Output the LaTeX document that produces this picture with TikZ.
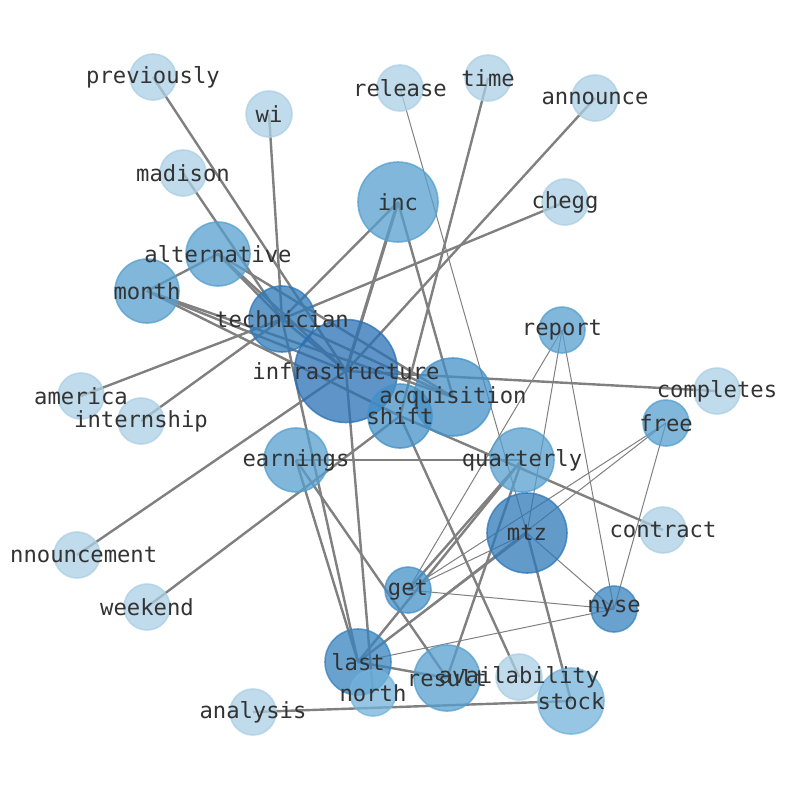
\documentclass[tikz,border=0pt]{standalone}
\usepackage{fontspec}
\newfontfamily\labfont{DejaVu Sans Mono}
\definecolor{cL}{RGB}{171,207,228}
\definecolor{cS}{RGB}{115,179,219}
\definecolor{cM}{RGB}{86,159,206}
\definecolor{cA}{RGB}{68,144,198}
\definecolor{cN}{RGB}{55,131,190}
\definecolor{cT}{RGB}{46,120,184}
\definecolor{cD}{RGB}{40,112,180}
\definecolor{labc}{RGB}{51,51,51}
\definecolor{edgec}{RGB}{128,128,128}
\pgfdeclarelayer{background}
\pgfdeclarelayer{foreground}
\pgfsetlayers{background,main,foreground}
\tikzset{
  vtx/.style={circle, inner sep=0pt, opacity=0.75, line width=1.6pt},
  vL/.style={vtx, fill=cL, draw=cL, minimum size=46pt},
  vS/.style={vtx, fill=cS, draw=cS, minimum size=#1},
  vM/.style={vtx, fill=cM, draw=cM, minimum size=#1},
  vA/.style={vtx, fill=cA, draw=cA, minimum size=#1},
  vN/.style={vtx, fill=cN, draw=cN, minimum size=#1},
  vT/.style={vtx, fill=cT, draw=cT, minimum size=#1},
  vD/.style={vtx, fill=cD, draw=cD, minimum size=#1},
  lab/.style={font=\labfont\fontsize{22.2}{24}\selectfont, text=labc, inner sep=0pt},
  thk/.style={draw=edgec, line width=2.4pt},
  thkk/.style={draw=edgec, line width=3.2pt},
  thn/.style={draw=edgec, line width=1pt}
}
\begin{document}
\begin{tikzpicture}[x=1pt,y=-1pt]
\useasboundingbox (0,0) rectangle (794,790);
% nodes
\node[vL] (previously) at (153,77) {};
\node[vL] (wi) at (269,114) {};
\node[vL] (release) at (400,88) {};
\node[vL] (time) at (488,78) {};
\node[vL] (announce) at (595,98) {};
\node[vL] (madison) at (183,173) {};
\node[vM=80pt] (inc) at (398,202) {};
\node[vL] (chegg) at (565,202) {};
\node[vM=64pt] (alternative) at (218,254) {};
\node[vM=64pt] (month) at (147,291) {};
\node[vT=66pt] (technician) at (282,319) {};
\node[vD=103pt] (infrastructure) at (346,371) {};
\node[vM=46pt] (report) at (562,330) {};
\node[vL] (america) at (81,396) {};
\node[vL] (completes) at (717,391) {};
\node[vL] (internship) at (141,421) {};
\node[vA=78pt] (acquisition) at (453,397) {};
\node[vA=64pt] (shift) at (400,416) {};
\node[vM=46pt] (free) at (666,423) {};
\node[vM=64pt] (earnings) at (296,460) {};
\node[vM=64pt] (quarterly) at (522,460) {};
\node[vT=80pt] (mtz) at (527,533) {};
\node[vL] (contract) at (663,530) {};
\node[vL] (announcement) at (77,555) {};
\node[vL] (weekend) at (147,607) {};
\node[vA=46pt] (get) at (408,590) {};
\node[vN=46pt] (nyse) at (614,609) {};
\node[vN=66pt] (last) at (358,662) {};
\node[vL] (availability) at (519,677) {};
\node[vM=66pt] (result) at (447,678) {};
\node[vS=46pt] (north) at (373,693) {};
\node[vS=66pt] (stock) at (571,701) {};
\node[vL] (analysis) at (253,712) {};
% edges
\begin{pgfonlayer}{background}
\draw[thk] (previously.center) -- (infrastructure.center);
\draw[thk] (wi.center) -- (technician.center);
\draw[thk] (madison.center) -- (technician.center);
\draw[thn] (release.center) -- (mtz.center);
\draw[thk] (time.center) -- (shift.center);
\draw[thk] (announce.center) -- (infrastructure.center);
\draw[thk] (chegg.center) -- (technician.center);
\draw[thk] (inc.center) -- (technician.center);
\draw[thkk] (inc.center) -- (infrastructure.center);
\draw[thk] (inc.center) -- (acquisition.center);
\draw[thk] (month.center) -- (alternative.center);
\draw[thk] (month.center) -- (infrastructure.center);
\draw[thk] (month.center) -- (acquisition.center);
\draw[thk] (month.center) -- (shift.center);
\draw[thk] (alternative.center) -- (technician.center);
\draw[thk] (alternative.center) -- (infrastructure.center);
\draw[thk] (alternative.center) -- (acquisition.center);
\draw[thk] (america.center) -- (technician.center);
\draw[thk] (internship.center) -- (technician.center);
\draw[thk] (announcement.center) -- (infrastructure.center);
\draw[thk] (weekend.center) -- (shift.center);
\draw[thk] (technician.center) -- (infrastructure.center);
\draw[thk] (technician.center) -- (acquisition.center);
\draw[thk] (technician.center) -- (last.center);
\draw[thk] (infrastructure.center) -- (completes.center);
\draw[thk] (infrastructure.center) -- (north.center);
\draw[thk] (earnings.center) -- (quarterly.center);
\draw[thk] (earnings.center) -- (last.center);
\draw[thk] (earnings.center) -- (result.center);
\draw[thk] (shift.center) -- (availability.center);
\draw[thk] (shift.center) -- (contract.center);
\draw[thk] (quarterly.center) -- (get.center);
\draw[thk] (quarterly.center) -- (last.center);
\draw[thk] (quarterly.center) -- (result.center);
\draw[thk] (mtz.center) -- (stock.center);
\draw[thn] (mtz.center) -- (nyse.center);
\draw[thn] (mtz.center) -- (get.center);
\draw[thk] (mtz.center) -- (last.center);
\draw[thn] (report.center) -- (get.center);
\draw[thn] (report.center) -- (mtz.center);
\draw[thn] (report.center) -- (nyse.center);
\draw[thn] (free.center) -- (get.center);
\draw[thn] (free.center) -- (last.center);
\draw[thn] (free.center) -- (nyse.center);
\draw[thn] (get.center) -- (nyse.center);
\draw[thn] (last.center) -- (nyse.center);
\draw[thk] (last.center) -- (result.center);
\draw[thk] (analysis.center) -- (stock.center);
\end{pgfonlayer}
% labels
\begin{pgfonlayer}{foreground}
\node[lab] (l-previously) at (previously) {previously};
\node[lab] (l-wi) at (wi) {wi};
\node[lab] (l-release) at (release) {release};
\node[lab] (l-time) at (time) {time};
\node[lab] (l-announce) at (announce) {announce};
\node[lab] (l-madison) at (madison) {madison};
\node[lab] (l-inc) at (inc) {inc};
\node[lab] (l-chegg) at (chegg) {chegg};
\node[lab] (l-alternative) at (alternative) {alternative};
\node[lab] (l-month) at (month) {month};
\node[lab] (l-technician) at (technician) {technician};
\node[lab] (l-infrastructure) at (infrastructure) {infrastructure};
\node[lab] (l-report) at (report) {report};
\node[lab] (l-america) at (america) {america};
\node[lab] (l-completes) at (completes) {completes};
\node[lab] (l-internship) at (internship) {internship};
\node[lab] (l-acquisition) at (acquisition) {acquisition};
\node[lab] (l-shift) at (shift) {shift};
\node[lab] (l-free) at (free) {free};
\node[lab] (l-earnings) at (earnings) {earnings};
\node[lab] (l-quarterly) at (quarterly) {quarterly};
\node[lab] (l-mtz) at (mtz) {mtz};
\node[lab] (l-contract) at (contract) {contract};
\node[lab, anchor=west] (l-announcement) at (10,555) {nnouncement};
\node[lab] (l-weekend) at (weekend) {weekend};
\node[lab] (l-get) at (get) {get};
\node[lab] (l-nyse) at (nyse) {nyse};
\node[lab] (l-last) at (last) {last};
\node[lab] (l-availability) at (availability) {availability};
\node[lab] (l-result) at (result) {result};
\node[lab] (l-north) at (north) {north};
\node[lab] (l-stock) at (stock) {stock};
\node[lab] (l-analysis) at (analysis) {analysis};
\end{pgfonlayer}
\end{tikzpicture}
\end{document}
